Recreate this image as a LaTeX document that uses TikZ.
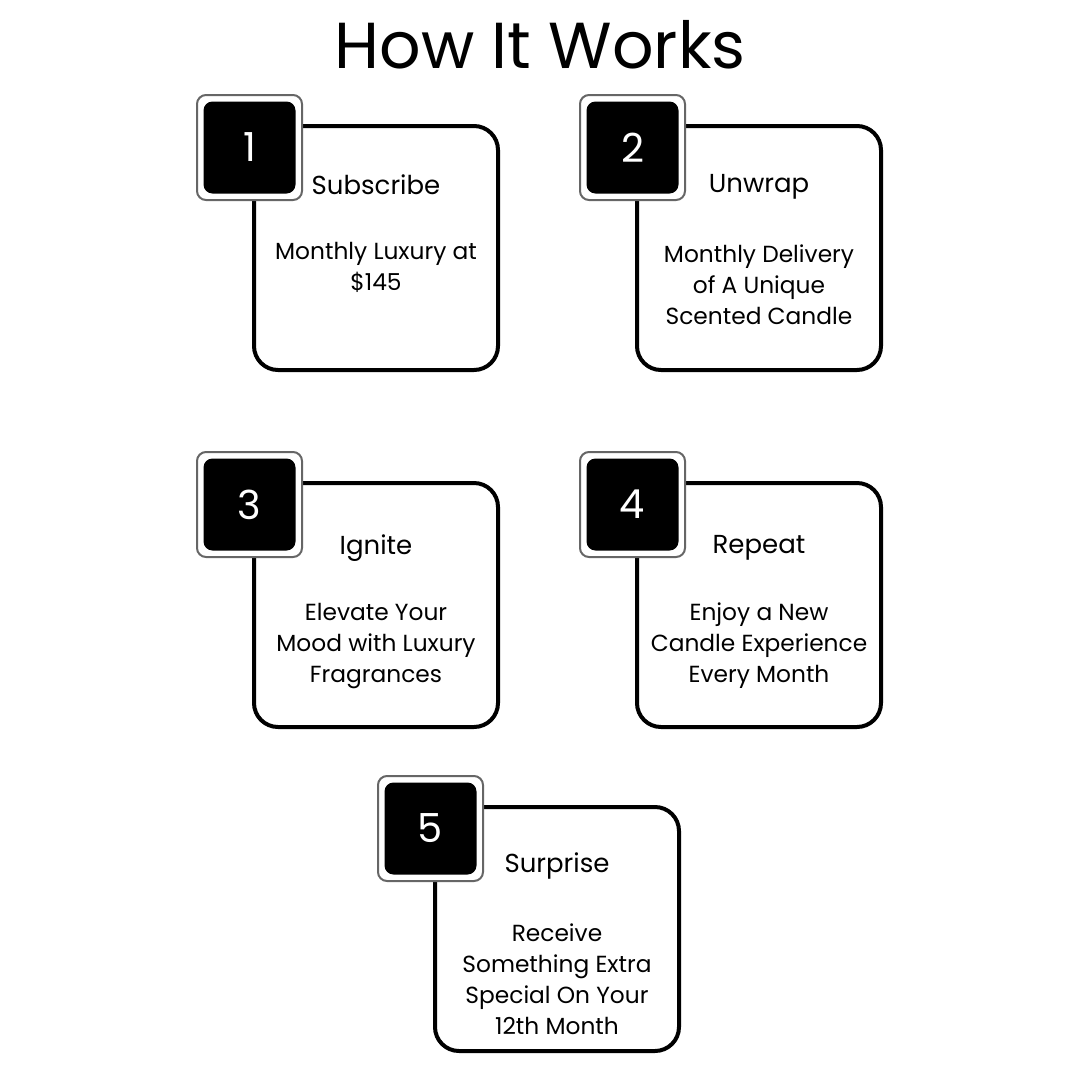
\documentclass[tikz,border=0pt]{standalone}
\usepackage{fontspec}
\setmainfont{Poppins}
\usepackage{tikz}

\begin{document}
\begin{tikzpicture}[x=1pt,y=-1pt,
  card/.style={draw,line width=4pt,rounded corners=24pt,fill=white,
    minimum width=244pt,minimum height=244pt},
  badge/.style={draw=black!60,line width=2pt,rounded corners=9pt,fill=white,
    minimum size=105pt},
  numbox/.style={fill=black,rounded corners=9pt,minimum size=92pt,text=white,
    font=\fontsize{40}{40}\selectfont},
  head/.style={font=\fontsize{26}{30}\selectfont},
  body/.style={align=center,font=\fontsize{23.3}{31}\selectfont}]
  \useasboundingbox (0,0) rectangle (1080,1080);
  \node[font=\fontsize{65}{65}\selectfont] (title) at (540,45) {How It Works};
  \foreach \i/\cx/\cy/\hy/\by/\hd/\bd in {
      1/376/248/185/267/Subscribe/{Monthly Luxury at\\\$145},
      2/759/248/187/285/Unwrap/{Monthly Delivery\\of A Unique\\Scented Candle},
      3/376/605/548/646/Ignite/{Elevate Your\\Mood with Luxury\\Fragrances},
      4/759/605/548/646/Repeat/{Enjoy a New\\Candle Experience\\Every Month},
      5/557/929/866/979/Surprise/{Receive\\Something Extra\\Special On Your\\12th Month}} {
    \node[card] (card\i) at (\cx,\cy) {};
    % badge sits on the top left corner of the card
    \node[badge] (badge\i) at ([xshift=-126.5pt,yshift=100.5pt]card\i.center) {};
    \node[numbox] (num\i) at (badge\i.center) {\i};
    \node[head] (head\i) at (\cx,\hy) {\hd};
    \node[body] (text\i) at (\cx,\by) {\bd};
  }
\end{tikzpicture}
\end{document}
